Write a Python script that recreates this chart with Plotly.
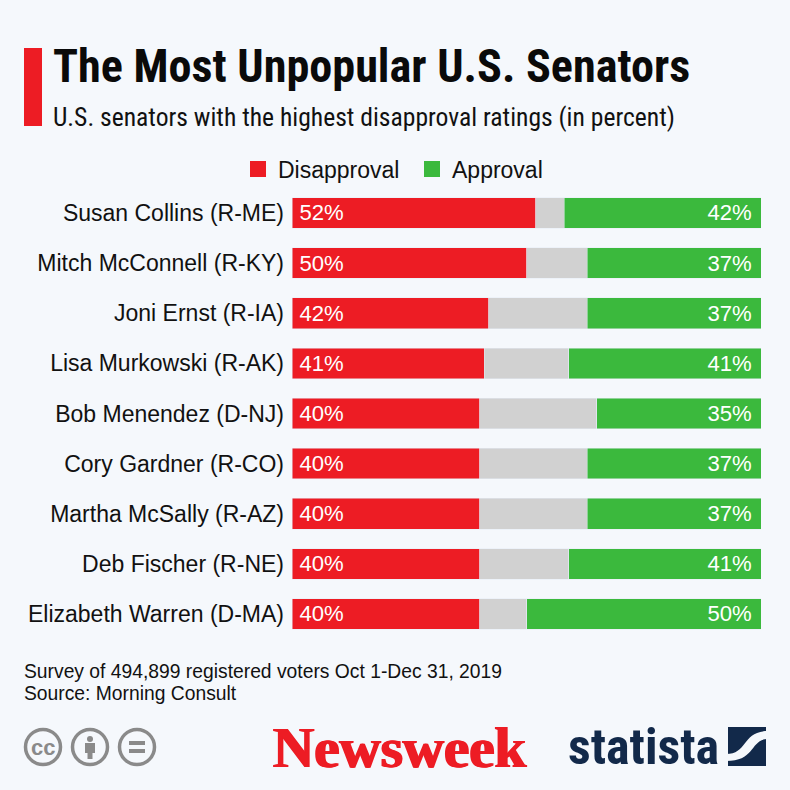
import plotly.graph_objects as go

senators = ['Susan Collins (R-ME)', 'Mitch McConnell (R-KY)', 'Joni Ernst (R-IA)',
            'Lisa Murkowski (R-AK)', 'Bob Menendez (D-NJ)', 'Cory Gardner (R-CO)',
            'Martha McSally (R-AZ)', 'Deb Fischer (R-NE)', 'Elizabeth Warren (D-MA)']
disapproval = [52, 50, 42, 41, 40, 40, 40, 40, 40]
no_opinion = [6, 13, 21, 18, 25, 23, 23, 19, 10]
approval = [42, 37, 37, 41, 35, 37, 37, 41, 50]

RED = '#ed1c24'
GREEN = '#3bb93d'
GREY = '#d1d1d1'
BG = '#f5f8fc'
NAVY = '#12294a'
ICON = '#8a8a8a'
THIN = '\u2009'
HAIR = '\u200a'

# plot area in page pixels
L, R, T, B = 292, 761, 188, 639


def px(x):
    return (x - L) / (R - L)


def py(y):
    return (B - y) / (B - T)


def label(x, y, text, size, color='#111111', family='Liberation Sans', anchor='left', bold=False, shadow='none'):
    fig.add_annotation(x=px(x), y=py(y), xref='paper', yref='paper', text=text, showarrow=False,
                       xanchor=anchor, yanchor='middle', align=anchor,
                       font=dict(family=family, size=size, color=color, shadow=shadow,
                                 weight='bold' if bold else 'normal'))


def box(x0, y0, x1, y1, color):
    fig.add_shape(type='rect', xref='paper', yref='paper', x0=px(x0), x1=px(x1), y0=py(y0), y1=py(y1),
                  fillcolor=color, line_width=0)


def ring(cx, cy, r=17.5):
    fig.add_shape(type='circle', xref='paper', yref='paper', x0=px(cx - r), x1=px(cx + r),
                  y0=py(cy + r), y1=py(cy - r), line=dict(color=ICON, width=3.5))


fig = go.Figure()
fig.add_bar(y=senators, x=disapproval, orientation='h', marker_color=RED, showlegend=False,
            text=[f'{THIN}{v}%' for v in disapproval], textposition='inside', insidetextanchor='start',
            textangle=0, textfont=dict(color='white', size=22.5, family='Liberation Sans'))
fig.add_bar(y=senators, x=no_opinion, orientation='h', marker_color=GREY, showlegend=False)
fig.add_bar(y=senators, x=approval, orientation='h', marker_color=GREEN, showlegend=False,
            text=[f'{v}%{THIN}{HAIR}' for v in approval], textposition='inside', insidetextanchor='end',
            textangle=0, textfont=dict(color='white', size=22.5, family='Liberation Sans'))

# legend swatches come from empty marker traces so they can be bigger than the bar ones
for name, color in [('Disapproval', RED), ('Approval', GREEN)]:
    fig.add_scatter(x=[None], y=[None], mode='markers', name=name,
                    marker=dict(symbol='square', size=17, color=color))

fig.update_layout(
    width=790, height=790, barmode='stack', bargap=0.39,
    margin=dict(l=L, r=790 - R, t=T, b=790 - B),
    paper_bgcolor=BG, plot_bgcolor=BG,
    font=dict(family='Liberation Sans', color='#111111'),
    legend=dict(orientation='h', x=px(238), y=py(169), xref='paper', yref='paper', xanchor='left',
                yanchor='middle', font=dict(size=23), bgcolor='rgba(0,0,0,0)',
                itemsizing='trace', traceorder='normal', entrywidth=129, entrywidthmode='pixels'),
)
fig.update_xaxes(range=[0, 100], visible=False)
fig.update_yaxes(autorange='reversed', categoryorder='array', categoryarray=senators, showline=False,
                 showgrid=False, ticks='', ticklabelstandoff=7, tickfont=dict(size=23, color='#111111'))

# header
box(24, 48, 42, 126, RED)
label(51, 66, 'The Most Unpopular U.S. Senators', 46.2, color='#0a0a0a', bold=True,
      family='Roboto Condensed, Liberation Sans Narrow, Roboto')
label(51, 117, 'U.S. senators with the highest disapproval ratings (in percent)', 25.6,
      family='Roboto Condensed, Liberation Sans Narrow, Roboto')

# footer
label(22, 671, 'Survey of 494,899 registered voters Oct 1-Dec 31, 2019', 19.3)
label(22, 693, 'Source: Morning Consult', 19.3)

# licence icons
ring(43, 747)
ring(90, 747)
ring(137, 747)
label(43, 747, 'cc', 22, color=ICON, anchor='center', bold=True)
fig.add_shape(type='circle', xref='paper', yref='paper', x0=px(87), x1=px(93), y0=py(742), y1=py(736),
              fillcolor=ICON, line_width=0)
box(85, 743, 95, 753, ICON)
box(87.5, 753, 92.5, 759, ICON)
box(129, 741, 145, 745, ICON)
box(129, 749, 145, 753, ICON)

# logos
label(271, 747, 'Newsweek', 57, color=RED, family='Liberation Serif', bold=True,
      shadow=f'1px 0 0 {RED}, -1px 0 0 {RED}')
label(566, 747, 'statista', 50, color=NAVY, family='Roboto Condensed, Liberation Sans Narrow, Roboto', bold=True)
box(728, 727, 766, 766, NAVY)
fig.add_shape(type='path', xref='paper', yref='paper',
              path=(f'M {px(726)} {py(754)} C {px(748)} {py(754)} {px(742)} {py(731)} {px(768)} {py(731)} '
                    f'L {px(768)} {py(739)} C {px(750)} {py(739)} {px(756)} {py(761)} {px(726)} {py(761)} Z'),
              fillcolor=BG, line_width=0)

fig.write_html('out.html', config={'displayModeBar': False}, post_script="document.body.style.margin='0';")
